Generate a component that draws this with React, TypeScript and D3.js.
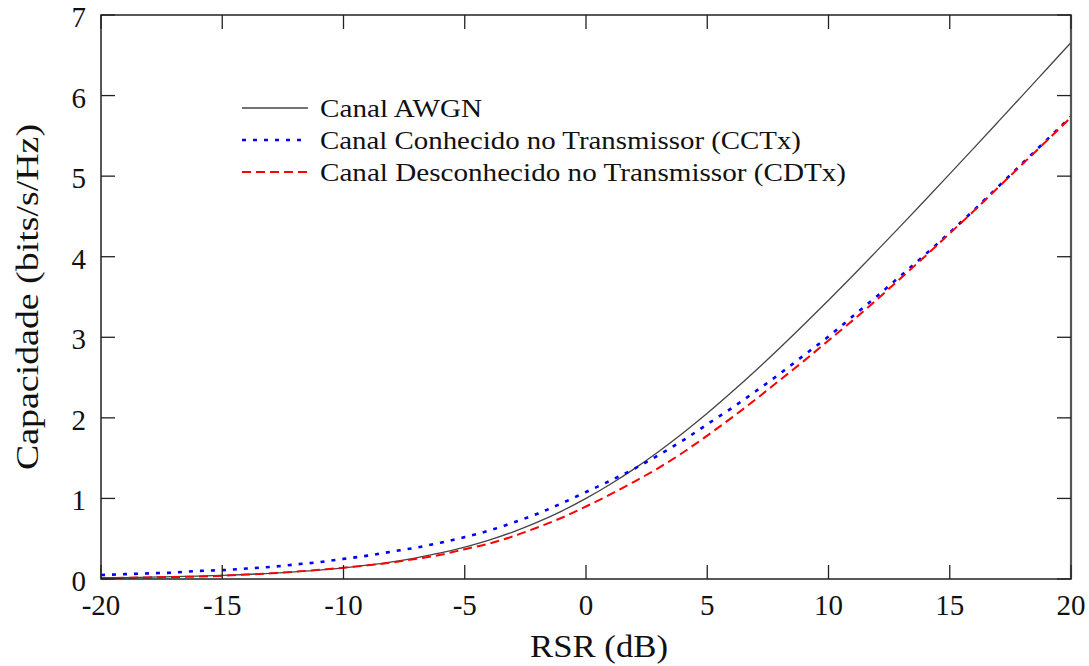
import * as d3 from 'd3';

const WIDTH = 1089;
const HEIGHT = 666;
const MARGIN = { top: 15, right: 18, bottom: 87, left: 101 };

// RSR in dB, one point per dB
const snrDb = d3.range(-20, 21);

const awgn = [
  0.014, 0.018, 0.023, 0.029, 0.036, 0.045, 0.056, 0.071, 0.089, 0.11, 0.138,
  0.171, 0.212, 0.263, 0.323, 0.396, 0.483, 0.586, 0.706, 0.843, 1.0,
  1.176, 1.37, 1.583, 1.812, 2.057, 2.317, 2.588, 2.87, 3.161, 3.459,
  3.764, 4.075, 4.389, 4.707, 5.028, 5.351, 5.676, 6.002, 6.33, 6.658,
];

const cctx = [
  0.05, 0.06, 0.07, 0.08, 0.1, 0.11, 0.13, 0.15, 0.18, 0.21, 0.25,
  0.29, 0.34, 0.39, 0.45, 0.52, 0.6, 0.7, 0.81, 0.94, 1.08,
  1.22, 1.37, 1.54, 1.72, 1.92, 2.12, 2.33, 2.55, 2.78, 3.01,
  3.26, 3.51, 3.77, 4.03, 4.3, 4.58, 4.87, 5.16, 5.45, 5.74,
];

const cdtx = [
  0.01, 0.015, 0.02, 0.025, 0.03, 0.04, 0.055, 0.07, 0.09, 0.115, 0.14,
  0.17, 0.205, 0.25, 0.3, 0.37, 0.44, 0.53, 0.64, 0.76, 0.9,
  1.05, 1.21, 1.38, 1.57, 1.78, 2.0, 2.23, 2.47, 2.71, 2.96,
  3.21, 3.47, 3.74, 4.01, 4.29, 4.57, 4.86, 5.15, 5.44, 5.73,
];

const xTicks = [-20, -15, -10, -5, 0, 5, 10, 15, 20];
const yTicks = [0, 1, 2, 3, 4, 5, 6, 7];

// textLen: stretch Liberation Serif to the wider TeX-like font of the original
const series = [
  { name: 'Canal AWGN', values: awgn, color: '#444', width: 1.3, dash: '', textLen: 162 },
  { name: 'Canal Conhecido no Transmissor (CCTx)', values: cctx, color: '#0000ff', width: 2.6, dash: '4,7', textLen: 481 },
  { name: 'Canal Desconhecido no Transmissor (CDTx)', values: cdtx, color: '#ff0000', width: 2, dash: '9,5', textLen: 526 },
];

const FONT = '"Liberation Serif", "DejaVu Serif", serif';

export default function App() {
  const x = d3.scaleLinear().domain([-20, 20]).range([MARGIN.left, WIDTH - MARGIN.right]);
  const y = d3.scaleLinear().domain([0, 7]).range([HEIGHT - MARGIN.bottom, MARGIN.top]);
  const line = d3.line<number>()
    .x((_, i) => x(snrDb[i]))
    .y((d) => y(d))
    .curve(d3.curveMonotoneX);

  const x0 = x.range()[0];
  const x1 = x.range()[1];
  const y0 = y.range()[0];
  const y1 = y.range()[1];
  const tick = 14;

  return (
    <div style={{ position: 'fixed', left: 0, top: 0 }}>
      <svg width={WIDTH} height={HEIGHT} viewBox={`0 0 ${WIDTH} ${HEIGHT}`} style={{ display: 'block', background: '#fff' }}>
        <g fill="none">
          {series.map((s) => (
            <path
              key={s.name}
              d={line(s.values) || ''}
              stroke={s.color}
              strokeWidth={s.width}
              strokeDasharray={s.dash || undefined}
            />
          ))}
        </g>

        {/* frame and ticks */}
        <rect x={x0} y={y1} width={x1 - x0} height={y0 - y1} fill="none" stroke="#222" strokeWidth={1.5} />
        <line x1={x1} x2={x1} y1={y1} y2={y0} stroke="#555" strokeWidth={2.2} />
        <g stroke="#222" strokeWidth={1.3}>
          {xTicks.map((t) => (
            <g key={`xt${t}`}>
              <line x1={x(t)} x2={x(t)} y1={y0} y2={y0 - tick} />
              <line x1={x(t)} x2={x(t)} y1={y1} y2={y1 + tick} />
            </g>
          ))}
          {yTicks.map((t) => (
            <g key={`yt${t}`}>
              <line x1={x0} x2={x0 + tick} y1={y(t)} y2={y(t)} />
              <line x1={x1} x2={x1 - tick} y1={y(t)} y2={y(t)} />
            </g>
          ))}
        </g>

        <g fontFamily={FONT} fontSize={29} fill="#111">
          {xTicks.map((t) => (
            <text key={`xl${t}`} x={x(t)} y={y0 + 36} textAnchor="middle">{t}</text>
          ))}
          {yTicks.map((t) => (
            <text key={`yl${t}`} x={x0 - 15} y={y(t) + 12} textAnchor="end">{t}</text>
          ))}
        </g>

        <text
          x={599}
          y={657}
          textAnchor="middle"
          fontFamily={FONT}
          fontSize={32}
          fill="#111"
          textLength={138}
          lengthAdjust="spacingAndGlyphs"
        >
          RSR (dB)
        </text>
        <text
          transform={`translate(38, ${(y0 + y1) / 2}) rotate(-90)`}
          textAnchor="middle"
          fontFamily={FONT}
          fontSize={32}
          fill="#111"
          textLength={346}
          lengthAdjust="spacingAndGlyphs"
        >
          Capacidade (bits/s/Hz)
        </text>

        {/* legend */}
        <g fontFamily={FONT} fontSize={26} fill="#111">
          {series.map((s, i) => (
            <g key={`lg${s.name}`} transform={`translate(242, ${108 + i * 32})`}>
              <line x1={0} x2={66} y1={0} y2={0} stroke={s.color} strokeWidth={s.width} strokeDasharray={s.dash || undefined} />
              <text x={78} y={9} textLength={s.textLen} lengthAdjust="spacingAndGlyphs">{s.name}</text>
            </g>
          ))}
        </g>
      </svg>
    </div>
  );
}
